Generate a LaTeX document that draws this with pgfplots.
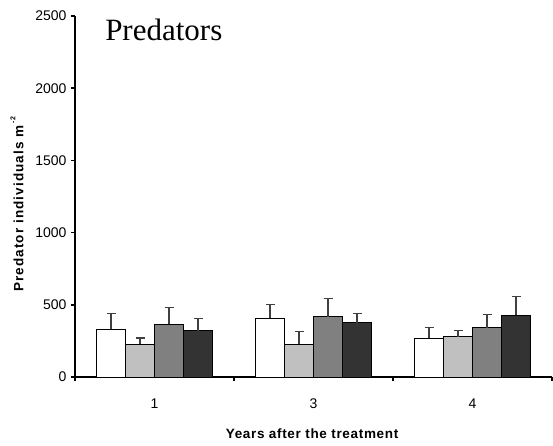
\documentclass[border=0pt]{standalone}
\usepackage{fontspec}
\setmainfont{Liberation Sans}
\newfontfamily\serifttl{Liberation Serif}
\usepackage{pgfplots}
\pgfplotsset{compat=1.18}
\definecolor{lg}{HTML}{C0C0C0}
\definecolor{mg}{HTML}{808080}
\definecolor{dg}{HTML}{333333}
\definecolor{eb}{HTML}{404040}
\begin{document}
\begin{tikzpicture}
\begin{axis}[name=ax, scale only axis, width=477pt, height=361pt,
  ybar=0pt, bar width=29pt,
  xmin=0.5, xmax=3.5, ymin=0, ymax=2500,
  axis x line*=bottom, axis y line*=left,
  axis line style={line width=1.8pt},
  xtick={0.5,1.5,2.5,3.5}, xticklabels={1,3,4}, x tick label as interval,
  ytick={0,500,...,2500},
  tick align=outside, major tick length=4pt,
  tick style={black, line width=1.5pt},
  /pgf/number format/assume math mode=true,
  /pgf/number format/set thousands separator={},
  ticklabel style={font=\fontsize{14}{16}\selectfont},
  yticklabel style={xshift=-1pt},
  xticklabel style={yshift=-14pt},
  every axis plot/.append style={draw=black, line width=0.8pt,
    error bars/y dir=plus, error bars/y explicit,
    error bars/error bar style={draw=eb, line width=1.2pt},
    error bars/error mark options={draw=eb, line width=1.2pt, mark size=4.5pt, rotate=90}},
  clip=false,
]
\addplot[fill=white] coordinates {(1,332) +- (0,108) (2,406) +- (0,97) (3,270) +- (0,73)};
\addplot[fill=lg] coordinates {(1,228) +- (0,42) (2,228) +- (0,86) (3,279) +- (0,41)};
\addplot[fill=mg] coordinates {(1,367) +- (0,113) (2,418) +- (0,127) (3,341) +- (0,90)};
\addplot[fill=dg] coordinates {(1,320) +- (0,86) (2,376) +- (0,62) (3,429) +- (0,127)};
\node[anchor=base west, inner sep=0pt, font=\serifttl\fontsize{31}{34}\selectfont] at (axis description cs:0.063,0.9335) {Predators};
\node[anchor=center, rotate=90, inner sep=0pt, font=\bfseries\fontsize{13.5}{15}\selectfont\addfontfeature{LetterSpace=8}] at (axis description cs:-0.1216,0.479) {Predator individuals m\,\raisebox{1.1ex}{\fontsize{7}{8}\selectfont -2}};
\node[anchor=center, inner sep=0pt, font=\bfseries\fontsize{13.5}{15}\selectfont\addfontfeature{LetterSpace=5}] at (axis description cs:0.497,-0.158) {Years after the treatment};
\end{axis}
\pgfresetboundingbox
\path[use as bounding box] ([shift={(-75pt,-68pt)}]ax.south west) rectangle ([shift={(1pt,16pt)}]ax.north east);
\end{tikzpicture}
\end{document}
